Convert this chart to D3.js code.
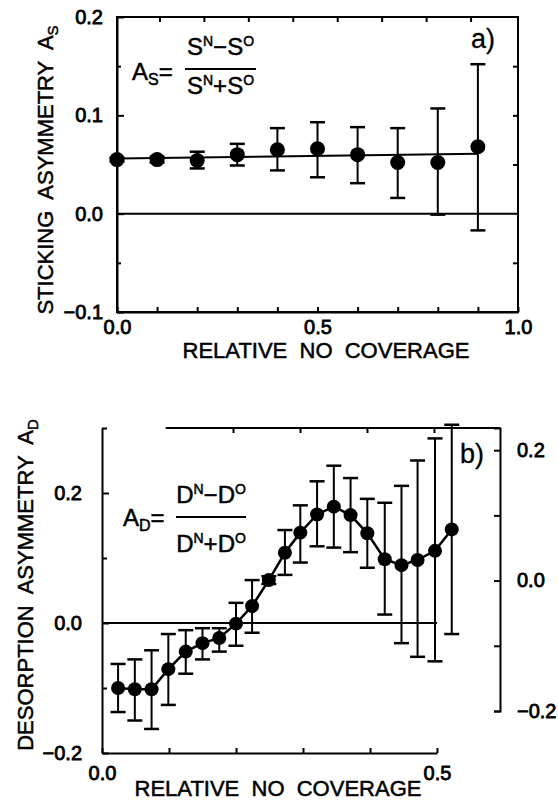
<!DOCTYPE html>
<html>
<head>
<meta charset="utf-8">
<script src="https://cdn.jsdelivr.net/npm/d3@7"></script>
<style>
  body { margin: 0; background: #fff; }
  svg { display: block; }
  text { white-space: pre; }
</style>
</head>
<body>
<div id="chart"></div>
<script>
// ---- Panel a: sticking asymmetry ----
const aX = [0.0, 0.1, 0.2, 0.3, 0.4, 0.5, 0.6, 0.7, 0.8, 0.9];
const aY = [0.055, 0.055, 0.054, 0.060, 0.065, 0.066, 0.060, 0.052, 0.052, 0.068];
const aLow = [0.053, 0.052, 0.046, 0.049, 0.044, 0.037, 0.031, 0.016, -0.001, -0.017];
const aHigh = [0.057, 0.058, 0.063, 0.071, 0.087, 0.093, 0.088, 0.087, 0.107, 0.152];
const aFitX = [0.0, 0.9];
const aFitY = [0.056, 0.061];
const aTicksX = [0, 0.1, 0.2, 0.3, 0.4, 0.5, 0.6, 0.7, 0.8, 0.9, 1.0];
const aLabelsX = [0, 0.5, 1.0];
const aMajorY = [-0.1, 0.0, 0.1, 0.2];
const aMinorY = [-0.05, 0.05, 0.15];
const aTopTicks = [1, 2, 3, 4, 5, 6, 7, 8];

// ---- Panel b: desorption asymmetry ----
const bX = [0.024, 0.049, 0.074, 0.099, 0.125, 0.150, 0.175, 0.200, 0.224, 0.249, 0.273,
            0.296, 0.321, 0.346, 0.371, 0.396, 0.422, 0.447, 0.471, 0.497, 0.522];
const bY = [-0.100, -0.102, -0.102, -0.071, -0.044, -0.031, -0.023, -0.001, 0.026, 0.066, 0.108,
            0.139, 0.167, 0.179, 0.166, 0.138, 0.098, 0.089, 0.097, 0.111, 0.144];
const bLow = [-0.137, -0.150, -0.163, -0.126, -0.078, -0.056, -0.044, -0.035, -0.015, 0.060, 0.074,
              0.093, 0.118, 0.116, 0.109, 0.085, 0.013, -0.031, -0.052, -0.059, -0.017];
const bHigh = [-0.063, -0.056, -0.042, -0.017, -0.011, -0.008, -0.008, 0.031, 0.066, 0.072, 0.143,
               0.181, 0.218, 0.242, 0.223, 0.191, 0.185, 0.211, 0.250, 0.284, 0.305];
const bTicksX = [0, 0.1, 0.2, 0.3, 0.4, 0.5];
const bLabelsX = [0, 0.5];
const bMajorY = [-0.2, 0.0, 0.2];
const bMinorY = [-0.1, 0.1, 0.3];
const bTopTicks = [0.2, 0.3, 0.4, 0.5];
const bRightTicks = [-0.2, -0.1, 0.0, 0.1, 0.2];
const bRightLabels = [-0.2, 0.0, 0.2];

const FONT = "'Liberation Sans', Arial, Helvetica, sans-serif";
const fmt = d3.format(".1f");
const near = (list, d) => list.some(v => Math.abs(v - d) < 1e-9);

const svg = d3.select("#chart")
  .append("svg")
    .attr("width", 558)
    .attr("height", 803)
    .attr("font-family", FONT);

// heavier, scan-like lettering
function ink(sel, w) {
  return sel.attr("fill", "#000").attr("stroke", "#000").attr("stroke-width", w);
}

// Style an axis group: black 2px lines, 20px labels
function styleAxis(g, keepDomain = true) {
  g.attr("font-family", FONT).attr("font-size", null);
  if (keepDomain) g.select(".domain").attr("stroke", "#000").attr("stroke-width", 2);
  else g.select(".domain").remove();
  g.selectAll(".tick line").attr("stroke", "#000").attr("stroke-width", 2);
  ink(g.selectAll(".tick text"), 0.8).style("font-size", "20px");
}

function errorBars(g, xs, ys, lo, hi, x, y, cap) {
  xs.forEach((xv, i) => {
    const cx = x(xv);
    g.append("line")
      .attr("x1", cx).attr("x2", cx)
      .attr("y1", y(lo[i])).attr("y2", y(hi[i]))
      .attr("stroke", "#000").attr("stroke-width", 2);
    [lo[i], hi[i]].forEach(v => {
      g.append("line")
        .attr("x1", cx - cap).attr("x2", cx + cap)
        .attr("y1", y(v)).attr("y2", y(v))
        .attr("stroke", "#000").attr("stroke-width", 2.5);
    });
  });
}

function dots(g, xs, ys, x, y, r) {
  g.selectAll(".dot")
    .data(xs.map((d, i) => [d, ys[i]]))
    .enter()
    .append("circle")
      .attr("cx", d => x(d[0]))
      .attr("cy", d => y(d[1]))
      .attr("r", r)
      .attr("fill", "#000");
}

// Formula "A_x = (X^N - X^O)/(X^N + X^O)"
function formula(g, letter, ax, aBase, barX1, barX2, barY, numBase, denBase) {
  const t = ink(g.append("text"), 0.5).attr("x", ax).attr("y", aBase)
    .style("font-size", "24px");
  t.append("tspan").text("A");
  t.append("tspan").attr("dy", 5).style("font-size", "16px").text(letter);
  t.append("tspan").attr("dy", -5).text("=");

  g.append("line")
    .attr("x1", barX1).attr("x2", barX2)
    .attr("y1", barY).attr("y2", barY)
    .attr("stroke", "#000").attr("stroke-width", 2);

  const cx = (barX1 + barX2) / 2;
  [[numBase, "\u2212"], [denBase, "+"]].forEach(([base, op]) => {
    const f = ink(g.append("text"), 0.5).attr("x", cx).attr("y", base)
      .attr("text-anchor", "middle").style("font-size", "24px");
    f.append("tspan").text(letter);
    f.append("tspan").attr("dy", -9).style("font-size", "14px").text("N");
    f.append("tspan").attr("dy", 9).text(op + letter);
    f.append("tspan").attr("dy", -9).style("font-size", "14px").text("O");
  });
}

function rotatedTitle(g, x, y, main, sub) {
  const t = ink(g.append("text"), 0.5)
    .attr("transform", `translate(${x},${y}) rotate(-90)`)
    .attr("text-anchor", "middle")
    .style("font-size", "22px");
  t.append("tspan").text(main);
  t.append("tspan").attr("dy", 5).style("font-size", "15px").text(sub);
}

// =================== Panel a ===================
const xa = d3.scaleLinear().domain([0, 1]).range([117, 518]);
const ya = d3.scaleLinear().domain([-0.1, 0.2]).range([312, 17]);
const xaTop = d3.scaleLinear().domain([0, 9]).range([115, 515]);
const pa = svg.append("g");

// frame
pa.append("rect")
  .attr("x", xa(0)).attr("y", ya(0.2))
  .attr("width", xa(1) - xa(0)).attr("height", ya(-0.1) - ya(0.2))
  .attr("fill", "none").attr("stroke", "#000").attr("stroke-width", 2);

pa.append("g")
  .attr("transform", `translate(0,${ya(-0.1)})`)
  .call(d3.axisBottom(xa).tickValues(aTicksX).tickSizeInner(-5).tickSizeOuter(0)
    .tickPadding(8).tickFormat(d => near(aLabelsX, d) ? fmt(d) : ""))
  .call(styleAxis);

pa.append("g")
  .attr("transform", `translate(${xa(0)},0)`)
  .call(d3.axisLeft(ya).tickValues(aMajorY).tickSizeInner(-7).tickSizeOuter(0)
    .tickPadding(14).tickFormat(fmt))
  .call(styleAxis);

pa.append("g")
  .attr("transform", `translate(${xa(0)},0)`)
  .call(d3.axisLeft(ya).tickValues(aMinorY).tickSizeInner(-4).tickSizeOuter(0).tickFormat(""))
  .call(g => styleAxis(g, false));

pa.append("g")
  .attr("transform", `translate(${xa(1)},0)`)
  .call(d3.axisRight(ya).tickValues(aMinorY.concat([0.1])).tickSizeInner(-5).tickSizeOuter(0).tickFormat(""))
  .call(g => styleAxis(g, false));

pa.append("g")
  .attr("transform", `translate(0,${ya(0.2)})`)
  .call(d3.axisTop(xaTop).tickValues(aTopTicks).tickSizeInner(-5).tickSizeOuter(0).tickFormat(""))
  .call(g => styleAxis(g, false));

// zero line
pa.append("line")
  .attr("x1", xa(0)).attr("x2", xa(1))
  .attr("y1", ya(0)).attr("y2", ya(0))
  .attr("stroke", "#000").attr("stroke-width", 2);

// fit line
pa.append("path")
  .datum(aFitX.map((d, i) => [d, aFitY[i]]))
  .attr("fill", "none").attr("stroke", "#000").attr("stroke-width", 2)
  .attr("d", d3.line().x(d => xa(d[0])).y(d => ya(d[1])));

errorBars(pa, aX, aY, aLow, aHigh, xa, ya, 7.5);
dots(pa, aX, aY, xa, ya, 7.5);

formula(pa, "S", 132, 80, 185, 256, 69, 55, 94);

ink(pa.append("text"), 0.3).attr("x", 471).attr("y", 48)
  .style("font-size", "27px").text("a)");

ink(pa.append("text"), 0.5).attr("x", 326).attr("y", 358)
  .attr("text-anchor", "middle").style("font-size", "22px")
  .text("RELATIVE  NO  COVERAGE");

rotatedTitle(pa, 53, 170, "STICKING  ASYMMETRY  A", "S");

// =================== Panel b ===================
const xb = d3.scaleLinear().domain([0, 0.5]).range([102, 437]);
const yb = d3.scaleLinear().domain([-0.2, 0.3]).range([753, 428]);
const xbTop = xb.copy().range([99, 434]);
const yb2 = d3.scaleLinear().domain([-0.2, 0.234]).range([711, 428]);
const rightX = 500;
const pb = svg.append("g");

pb.append("g")
  .attr("transform", `translate(0,${yb(-0.2)})`)
  .call(d3.axisBottom(xb).tickValues(bTicksX).tickSizeInner(-5).tickSizeOuter(0)
    .tickPadding(13).tickFormat(d => near(bLabelsX, d) ? fmt(d) : ""))
  .call(styleAxis);

pb.append("g")
  .attr("transform", `translate(${xb(0)},0)`)
  .call(d3.axisLeft(yb).tickValues(bMajorY).tickSizeInner(-7).tickSizeOuter(0)
    .tickPadding(20).tickFormat(fmt))
  .call(styleAxis);

pb.append("g")
  .attr("transform", `translate(${xb(0)},0)`)
  .call(d3.axisLeft(yb).tickValues(bMinorY).tickSizeInner(-5).tickSizeOuter(0).tickFormat(""))
  .call(g => styleAxis(g, false));

// broken top border
pb.append("line")
  .attr("x1", xb(0.095)).attr("x2", rightX)
  .attr("y1", yb(0.3)).attr("y2", yb(0.3))
  .attr("stroke", "#000").attr("stroke-width", 2);

pb.append("g")
  .attr("transform", `translate(0,${yb(0.3)})`)
  .call(d3.axisTop(xbTop).tickValues(bTopTicks).tickSizeInner(-5).tickSizeOuter(0).tickFormat(""))
  .call(g => styleAxis(g, false));

// right-hand axis
pb.append("g")
  .attr("transform", `translate(${rightX},0)`)
  .call(d3.axisRight(yb2).tickValues(bRightTicks).tickSizeInner(-6).tickSizeOuter(-6)
    .tickPadding(17).tickFormat(d => near(bRightLabels, d) ? fmt(d) : ""))
  .call(styleAxis);

// zero line
pb.append("line")
  .attr("x1", xb(0)).attr("x2", xb(0.5))
  .attr("y1", yb(0)).attr("y2", yb(0))
  .attr("stroke", "#000").attr("stroke-width", 2);

errorBars(pb, bX, bY, bLow, bHigh, xb, yb, 7.5);

pb.append("path")
  .datum(bX.map((d, i) => [d, bY[i]]))
  .attr("fill", "none").attr("stroke", "#000").attr("stroke-width", 2.5)
  .attr("d", d3.line().x(d => xb(d[0])).y(d => yb(d[1])));

dots(pb, bX, bY, xb, yb, 7);

formula(pb, "D", 123, 526, 176, 246, 517, 503, 552);

ink(pb.append("text"), 0.3).attr("x", 460).attr("y", 463)
  .style("font-size", "27px").text("b)");

ink(pb.append("text"), 0.5).attr("x", 278).attr("y", 796)
  .attr("text-anchor", "middle").style("font-size", "22px")
  .text("RELATIVE  NO  COVERAGE");

rotatedTitle(pb, 33, 585, "DESORPTION  ASYMMETRY  A", "D");
</script>
</body>
</html>
